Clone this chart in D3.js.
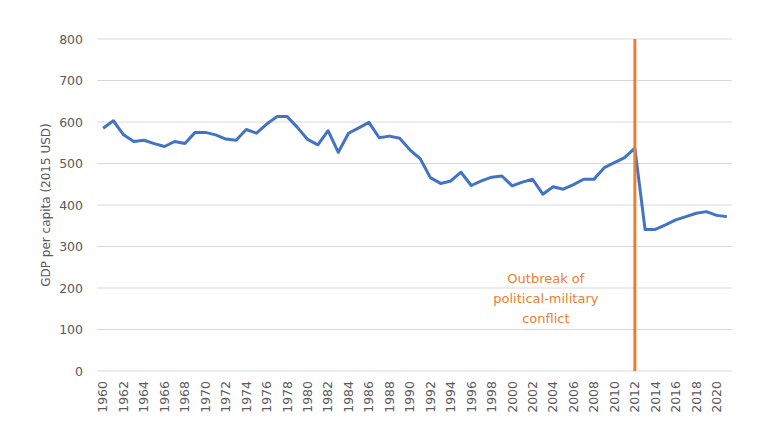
<!DOCTYPE html>
<html>
<head>
<meta charset="utf-8">
<script src="https://cdn.jsdelivr.net/npm/d3@7"></script>
<style>
  body { margin: 0; background: #fff; }
  text { font-family: "DejaVu Sans", Verdana, sans-serif; }
</style>
</head>
<body>
<script>
// GDP per capita (2015 USD)
var years = d3.range(1960, 2022);
var gdp = [585, 603, 569, 553, 556, 548, 541, 553, 548, 575,
           575, 569, 559, 556, 582, 573, 595, 613, 613, 587,
           558, 545, 579, 527, 573, 586, 599, 562, 566, 561,
           533, 512, 466, 452, 458, 479, 447, 458, 467, 470,
           446, 455, 462, 426, 444, 438, 449, 462, 462, 490,
           502, 514, 537, 341, 341, 352, 364, 372, 380, 384,
           375, 372];
var yTicks = [0, 100, 200, 300, 400, 500, 600, 700, 800];
var eventYear = 2012;
var eventLabel = ["Outbreak of", "political-military", "conflict"];

var w = 780, h = 439;
var margin = {top: 39, right: 48, bottom: 68, left: 97};

var svg = d3.select("body").append("svg")
	.attr("width", w)
	.attr("height", h);

var xScale = d3.scaleBand()
	.domain(years)
	.range([margin.left + 1, w - margin.right])
	.paddingInner(0)
	.paddingOuter(0);

var yScale = d3.scaleLinear()
	.domain([0, 800])
	.range([h - margin.bottom, margin.top]);

function xPos(d) { return xScale(d) + xScale.bandwidth() / 2; }

// gridlines
svg.append("g")
	.selectAll("line")
	.data(yTicks)
	.enter()
	.append("line")
	.attr("x1", margin.left)
	.attr("x2", w - margin.right)
	.attr("y1", function(d) { return yScale(d); })
	.attr("y2", function(d) { return yScale(d); })
	.attr("stroke", "#d9d9d9")
	.attr("stroke-width", 1);

// y axis labels
var yAxis = d3.axisLeft(yScale)
	.tickValues(yTicks)
	.tickSize(0)
	.tickPadding(14);

var gy = svg.append("g")
	.attr("transform", "translate(" + margin.left + ",0)")
	.call(yAxis);
gy.select(".domain").remove();
gy.selectAll("text")
	.attr("fill", "#595959")
	.style("font-family", "'DejaVu Sans', sans-serif")
	.style("font-size", "12.5px");

// x axis labels
var xAxis = d3.axisBottom(xScale)
	.tickValues(years.filter(function(d) { return d % 2 === 0; }))
	.tickSize(0);

var gx = svg.append("g")
	.attr("transform", "translate(0," + (h - margin.bottom) + ")")
	.call(xAxis);
gx.select(".domain").remove();
gx.selectAll("text")
	.attr("fill", "#595959")
	.style("font-family", "'DejaVu Sans', sans-serif")
	.style("font-size", "12.5px")
	.attr("text-anchor", "end")
	.attr("transform", "rotate(-90)")
	.attr("x", -10)
	.attr("y", 0)
	.attr("dy", "0.35em");

// y axis title
svg.append("text")
	.attr("transform", "translate(50," + ((margin.top + h - margin.bottom) / 2) + ") rotate(-90)")
	.attr("text-anchor", "middle")
	.attr("fill", "#595959")
	.style("font-size", "12px")
	.text("GDP per capita (2015 USD)");

// line
var line = d3.line()
	.x(function(d, i) { return xPos(years[i]); })
	.y(function(d) { return yScale(d); });

svg.append("path")
	.datum(gdp)
	.attr("fill", "none")
	.attr("stroke", "#4472c4")
	.attr("stroke-width", 3)
	.attr("stroke-linejoin", "round")
	.attr("d", line);

// event marker
svg.append("line")
	.attr("x1", xPos(eventYear))
	.attr("x2", xPos(eventYear))
	.attr("y1", yScale(800))
	.attr("y2", yScale(0))
	.attr("stroke", "#ed7d31")
	.attr("stroke-width", 3);

svg.append("g")
	.selectAll("text")
	.data(eventLabel)
	.enter()
	.append("text")
	.attr("x", xPos(eventYear) - 89)
	.attr("y", function(d, i) { return 283 + i * 20; })
	.attr("text-anchor", "middle")
	.attr("fill", "#ed7d31")
	.style("font-size", "13px")
	.text(function(d) { return d; });
</script>
</body>
</html>
